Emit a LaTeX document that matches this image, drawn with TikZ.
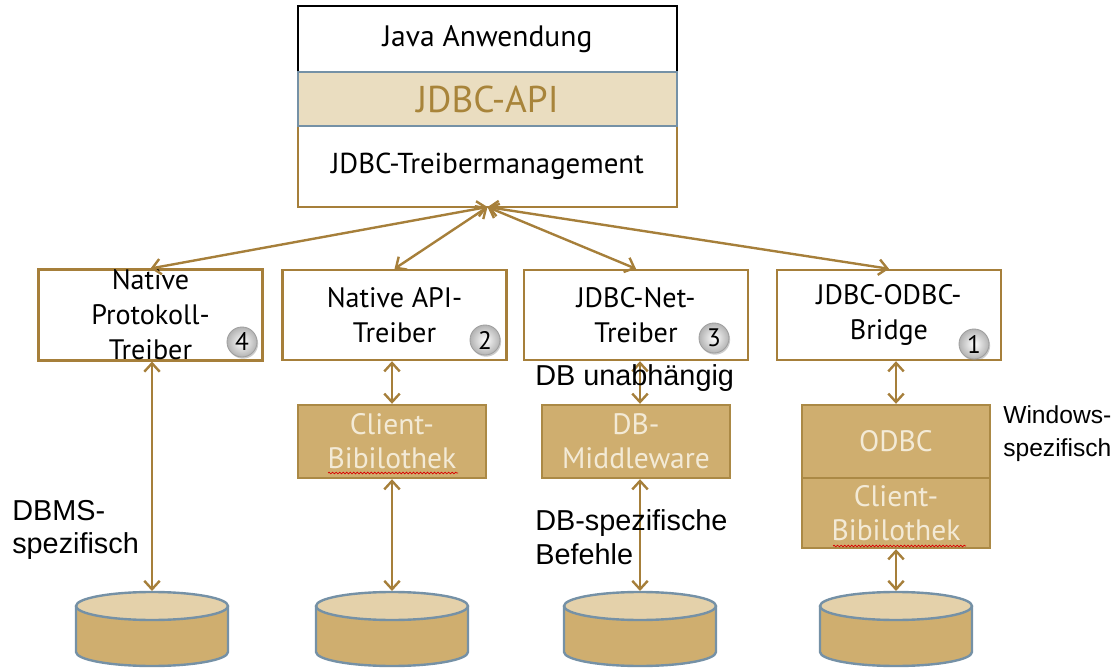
\documentclass[tikz,border=0pt]{standalone}
\usepackage{fontspec}
\setmainfont{PT Sans}
\newfontfamily\arial{Liberation Sans}
\usetikzlibrary{arrows.meta,decorations.pathmorphing,shadows}

\definecolor{jbrown}{HTML}{A67F3A}
\definecolor{jtan}{HTML}{CFAE6F}
\definecolor{jtanline}{HTML}{AB8945}
\definecolor{jband}{HTML}{EADDC0}
\definecolor{jblue}{HTML}{7591A6}
\definecolor{jlight}{HTML}{E4D1AA}
\definecolor{jcream}{HTML}{F3EAD6}
\definecolor{jtext}{HTML}{A8843A}

\tikzset{
  layer/.style = {rectangle, minimum width=9.475cm, inner sep=0pt,
                  outer sep=0pt, line width=1.7pt, align=center},
  driver/.style = {rectangle, draw=jbrown, fill=white, line width=1.7pt,
                   minimum width=5.6cm, minimum height=2.25cm, inner sep=0pt,
                   align=center, font=\fontsize{20}{25}\selectfont},
  lib/.style = {rectangle, draw=jtanline, fill=jtan, line width=1.7pt,
                minimum width=4.7cm, minimum height=1.825cm, inner sep=0pt,
                align=center, text=jcream, font=\fontsize{21}{24}\selectfont},
  nr/.style = {circle, minimum size=#1, inner sep=0pt, draw=gray!75,
               line width=0.6pt, inner color=white, outer color=gray!60,
               drop shadow={shadow xshift=0.8pt, shadow yshift=-1.2pt, opacity=0.4},
               font=\fontsize{18}{18}\selectfont},
  nr/.default = 0.75cm,
  dbline/.style = {draw=jblue, line width=1.7pt},
  link/.style = {draw=jbrown, line width=1.7pt, <->,
                 >={Straight Barb[length=6pt,width=11pt]}},
  note/.style = {align=left, anchor=west, inner sep=0pt,
                 font=\arial\fontsize{20.5}{24}\selectfont},
  spell/.style = {red!85!black, line width=0.5pt, decorate,
                  decoration={snake, amplitude=0.6pt, segment length=2.5pt}}
}

\begin{document}
\begin{tikzpicture}[x=0.025cm, y=-0.025cm]
	\useasboundingbox (0,0) rectangle (1119,669);
	\def \rx{76}
	\def \ry{14}

	% Stack
	\node[layer, draw=black, minimum height=1.65cm, font=\fontsize{21}{24}\selectfont] (java) at (487.5,39) {Java Anwendung};
	\node[layer, draw=jbrown, minimum height=2.025cm, font=\fontsize{20.5}{24}\selectfont] (mgmt) at (487.5,166.5) {JDBC-Treibermanagement};
	\node[layer, draw=jblue, fill=jband, minimum height=1.35cm, text=jtext, font=\fontsize{26.5}{30}\selectfont] (api) at (487.5,99) {JDBC-API};

	% Drivers
	\node[driver] (nativeprot) at (150.5,315) {Native\\Protokoll-\\Treiber};
	\node[driver] (nativeapi)  at (394.5,315) {Native API-\\Treiber};
	\node[driver] (netdrv)     at (636,315)   {JDBC-Net-\\Treiber};
	\node[driver] (bridge)     at (889,315)   {JDBC-ODBC-\\Bridge};

	\node[nr] (nr4) at (242,342) {4};
	\node[nr] (nr2) at (485,340) {2};
	\node[nr] (nr3) at (714,338) {3};
	\node[nr] (nr1) at (974,344) {1};

	% Libraries
	\node[lib] (clientlib)  at (392,441.5) {Client-\\Bibilothek};
	\node[lib] (middleware) at (636,441.5) {DB-\\Middleware};
	\node[lib] (odbc)       at (896,441.5) {ODBC};
	\node[lib, minimum height=1.75cm] (odbclib) at (896,513) {Client-\\Bibilothek};

	\draw[spell] (328,473) -- (458,473);
	\draw[spell] (833,546) -- (966,546);

	% Databases
	\draw[dbline, fill=jtan] (152-\rx,606) -- (152-\rx,652) arc[start angle=180, end angle=0, x radius=\rx, y radius=\ry] -- (152+\rx,606);
	\draw[dbline, fill=jlight] (152,606) ellipse [x radius=\rx, y radius=\ry];
	\draw[dbline, fill=jtan] (392-\rx,606) -- (392-\rx,652) arc[start angle=180, end angle=0, x radius=\rx, y radius=\ry] -- (392+\rx,606);
	\draw[dbline, fill=jlight] (392,606) ellipse [x radius=\rx, y radius=\ry];
	\draw[dbline, fill=jtan] (640-\rx,606) -- (640-\rx,652) arc[start angle=180, end angle=0, x radius=\rx, y radius=\ry] -- (640+\rx,606);
	\draw[dbline, fill=jlight] (640,606) ellipse [x radius=\rx, y radius=\ry];
	\draw[dbline, fill=jtan] (896-\rx,606) -- (896-\rx,652) arc[start angle=180, end angle=0, x radius=\rx, y radius=\ry] -- (896+\rx,606);
	\draw[dbline, fill=jlight] (896,606) ellipse [x radius=\rx, y radius=\ry];

	\coordinate (db4) at (152,591);
	\coordinate (db2) at (392,591);
	\coordinate (db3) at (640,591);
	\coordinate (db1) at (896,591);

	% Links
	\draw[link] (mgmt.south) -- (nativeprot.north);
	\draw[link] (mgmt.south) -- (nativeapi.north);
	\draw[link] (mgmt.south) -- (netdrv.north);
	\draw[link] (mgmt.south) -- (bridge.north);

	\draw[link] (db4 |- nativeprot.south) -- (db4);
	\draw[link] (clientlib.north |- nativeapi.south) -- (clientlib.north);
	\draw[link] (clientlib.south) -- (db2);
	\draw[link] (db3 |- netdrv.south) -- (db3 |- middleware.north);
	\draw[link] (db3 |- middleware.south) -- (db3);
	\draw[link] (odbc.north |- bridge.south) -- (odbc.north);
	\draw[link] (odbclib.south) -- (db1);

	% Notes
	\node[note] (unabh) at (535,378) {DB unabhängig};
	\node[note] (befehle) at (535,537) {DB-spezifische\\Befehle};
	\node[note] (dbms) at (12,530) {DBMS-\\spezifisch};
	\node[note, font=\arial\fontsize{17.5}{23.5}\selectfont] (windows) at (1003,434) {Windows-\\spezifisch};

\end{tikzpicture}
\end{document}
